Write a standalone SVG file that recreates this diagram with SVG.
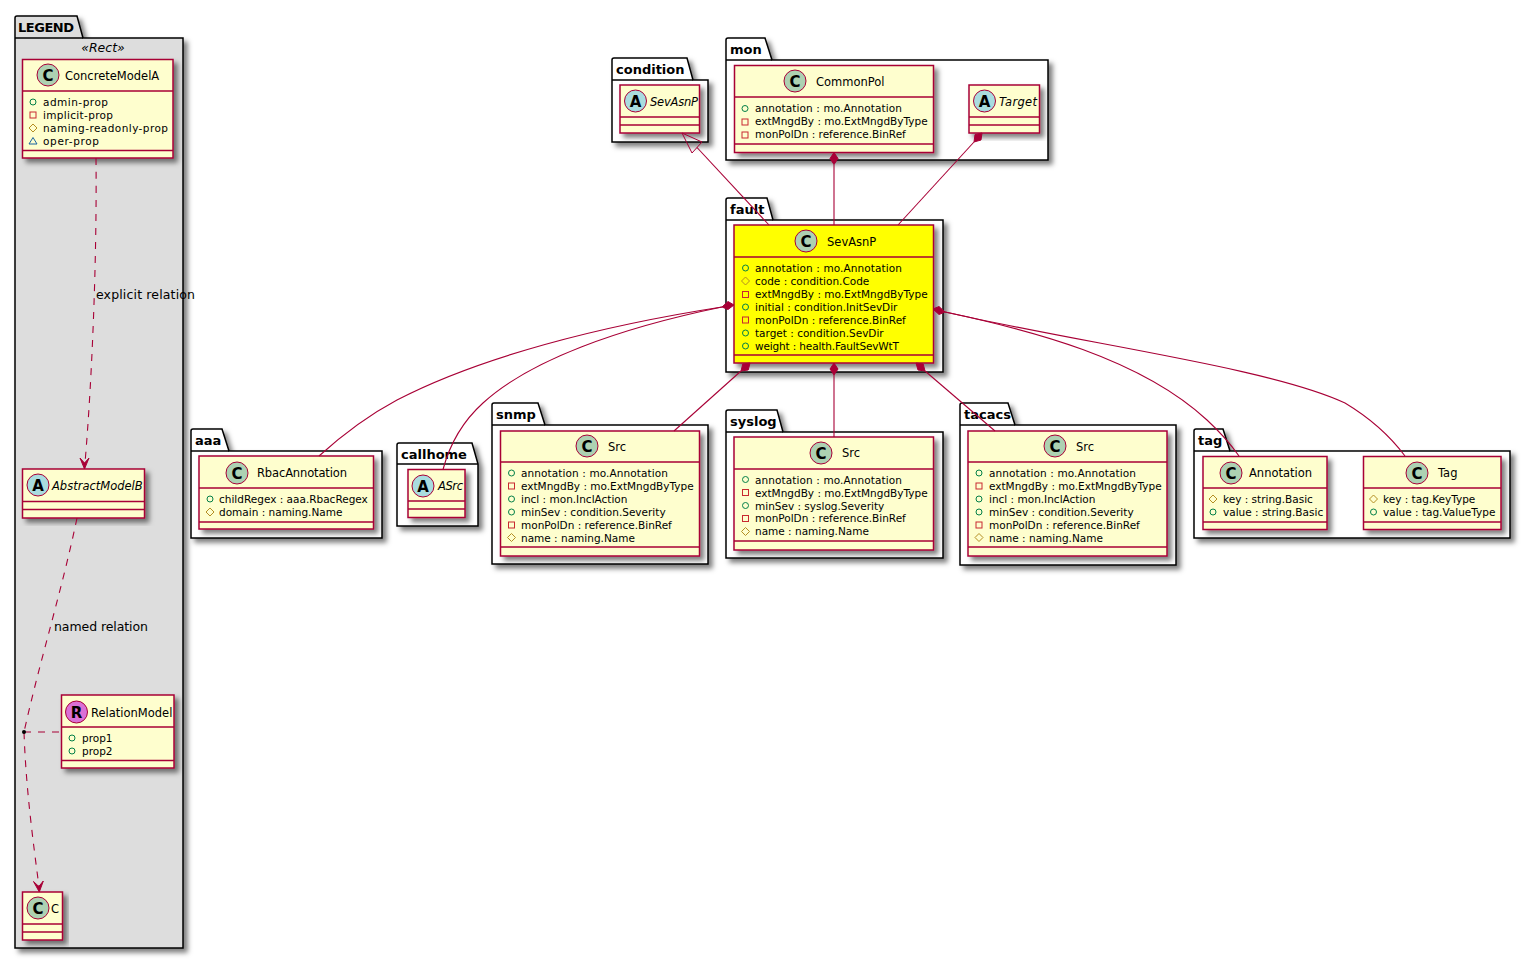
<svg xmlns="http://www.w3.org/2000/svg" width="1530" height="959" viewBox="0 0 1530 959">
<style>
text{font-family:"DejaVu Sans","Liberation Sans",sans-serif;fill:#000}
.pk{fill:#fff;stroke:#000;stroke-width:1.5;filter:url(#sh)}
.pg{fill:#ddd}
.pt{font-size:13px;font-weight:bold}
.b{fill:#FEFECE;stroke:#A80036;stroke-width:1.5;filter:url(#sh)}
.y{fill:#FFFF00}
.s{stroke:#A80036;stroke-width:1.5;fill:none}
.n{font-size:11.500px}
.i{font-size:11.500px;font-style:italic}
.a{font-size:10.500px}
.l{font-size:12.500px}
.c{stroke:#A80036;stroke-width:1.100;fill:none}
.d{stroke-dasharray:7 7}
.f{fill:#A80036;stroke:#A80036;stroke-width:1}
.o{stroke:#A80036;stroke-width:1;fill:none}
.cc{fill:#ADD1B2;stroke:#A80036;stroke-width:1}
.ca{fill:#A9DCDF;stroke:#A80036;stroke-width:1}
.cr{fill:#DA70D6;stroke:#A80036;stroke-width:1}
.g{font-size:15px;font-weight:bold;text-anchor:middle}
</style>
<defs>
<filter id="sh" x="-10%" y="-10%" width="125%" height="125%"><feDropShadow dx="4" dy="4" stdDeviation="2.500" flood-color="#000" flood-opacity="0.5"/></filter>
<circle id="pub" r="3" fill="none" stroke="#038048"/>
<rect id="pri" x="-3" y="-3" width="6" height="6" fill="none" stroke="#C82930"/>
<path id="pro" d="M-4,0L0,-4L4,0L0,4Z" fill="none" stroke="#B38D22"/>
<path id="pkg" d="M-4,3H4L0,-3.500Z" fill="none" stroke="#1963A0"/>
</defs>

<g id="pkg-legend"><path class="pk pg" d="M15,38V18Q15,16 17,16H77L83,38H183V948H15Z"/><path d="M15,38H83" fill="none" stroke="#000" stroke-width="1.5"/><text class="pt" x="18" y="32" textLength="56">LEGEND</text><text class="l" x="103" y="52" text-anchor="middle" font-style="italic">«Rect»</text></g>
<g id="pkg-condition"><path class="pk" d="M612,80V60Q612,58 614,58H687L693,80H708V142H612Z"/><path d="M612,80H693" fill="none" stroke="#000" stroke-width="1.5"/><text class="pt" x="616" y="74">condition</text></g>
<g id="pkg-mon"><path class="pk" d="M726,60V40Q726,38 728,38H765L772,60H1048V160H726Z"/><path d="M726,60H772" fill="none" stroke="#000" stroke-width="1.5"/><text class="pt" x="730" y="54">mon</text></g>
<g id="pkg-fault"><path class="pk" d="M726,220V200Q726,198 728,198H767L773,220H943V372H726Z"/><path d="M726,220H773" fill="none" stroke="#000" stroke-width="1.5"/><text class="pt" x="730" y="214">fault</text></g>
<g id="pkg-aaa"><path class="pk" d="M191,451V431Q191,429 193,429H222L229,451H382V538H191Z"/><path d="M191,451H229" fill="none" stroke="#000" stroke-width="1.5"/><text class="pt" x="195" y="445">aaa</text></g>
<g id="pkg-callhome"><path class="pk" d="M397,464V445Q397,443 399,443H472L478,464V526H397Z"/><path d="M397,464H478" fill="none" stroke="#000" stroke-width="1.5"/><text class="pt" x="401" y="459">callhome</text></g>
<g id="pkg-snmp"><path class="pk" d="M492,425V405Q492,403 494,403H538L545,425H708V564H492Z"/><path d="M492,425H545" fill="none" stroke="#000" stroke-width="1.5"/><text class="pt" x="496" y="419">snmp</text></g>
<g id="pkg-syslog"><path class="pk" d="M726,432V412Q726,410 728,410H777L783,432H943V558H726Z"/><path d="M726,432H783" fill="none" stroke="#000" stroke-width="1.5"/><text class="pt" x="730" y="426">syslog</text></g>
<g id="pkg-tacacs"><path class="pk" d="M960,425V405Q960,403 962,403H1008L1015,425H1176V565H960Z"/><path d="M960,425H1015" fill="none" stroke="#000" stroke-width="1.5"/><text class="pt" x="964" y="419">tacacs</text></g>
<g id="pkg-tag"><path class="pk" d="M1194,451V431Q1194,429 1196,429H1223L1230,451H1510V538H1194Z"/><path d="M1194,451H1230" fill="none" stroke="#000" stroke-width="1.5"/><text class="pt" x="1198" y="445">tag</text></g>

<g id="legend-concrete"><rect class="b" x="22.500" y="59.500" width="150.500" height="98.500"/><path class="s" d="M22.500,91H173M22.500,150.500H173"/><circle class="cc" cx="48" cy="75" r="11"/><text class="g" x="48" y="80.500">C</text><text class="n" x="65" y="80">ConcreteModelA</text>
<use href="#pub" x="33" y="102"/><text class="a" x="43" y="106" textLength="65">admin-prop</text><use href="#pri" x="33" y="115"/><text class="a" x="43" y="119" textLength="70">implicit-prop</text><use href="#pro" x="33" y="128"/><text class="a" x="43" y="132" textLength="125">naming-readonly-prop</text><use href="#pkg" x="33" y="141"/><text class="a" x="43" y="145" textLength="56">oper-prop</text></g>
<g id="legend-abstract"><rect class="b" x="22.500" y="469" width="122" height="49"/><path class="s" d="M22.500,501.500H144.500M22.500,509.500H144.500"/><circle class="ca" cx="38" cy="485" r="11"/><text class="g" x="38" y="490.500">A</text><text class="i" x="52" y="490">AbstractModelB</text></g>
<g id="legend-relation"><rect class="b" x="61.500" y="695" width="112.500" height="73"/><path class="s" d="M61.500,727H174M61.500,760.500H174"/><circle class="cr" cx="76.500" cy="712" r="11"/><text class="g" x="76.500" y="717.500">R</text><text class="n" x="91" y="717">RelationModel</text>
<use href="#pub" x="72" y="738"/><text class="a" x="82" y="742">prop1</text><use href="#pub" x="72" y="751"/><text class="a" x="82" y="755">prop2</text></g>
<g id="legend-c"><rect class="b" x="22.500" y="892" width="40" height="48"/><path class="s" d="M22.500,924H62.500M22.500,932H62.500"/><circle class="cc" cx="38" cy="908" r="11"/><text class="g" x="38" y="913.500">C</text><text class="n" x="51" y="913">C</text></g>

<g id="condition-sevasnp"><rect class="b" x="620" y="85" width="79.500" height="48"/><path class="s" d="M620,117H699.500M620,125H699.500"/><circle class="ca" cx="635.500" cy="101" r="11"/><text class="g" x="635.500" y="106.500">A</text><text class="i" x="650" y="106" textLength="48">SevAsnP</text></g>
<g id="mon-commonpol"><rect class="b" x="734.500" y="65.500" width="199" height="87"/><path class="s" d="M734.500,97H933.500M734.500,144H933.500"/><circle class="cc" cx="795" cy="81" r="11"/><text class="g" x="795" y="86.500">C</text><text class="n" x="816" y="86">CommonPol</text>
<use href="#pub" x="745" y="108.500"/><text class="a" x="755" y="112" textLength="147">annotation : mo.Annotation</text><use href="#pri" x="745" y="122"/><text class="a" x="755" y="125">extMngdBy : mo.ExtMngdByType</text><use href="#pri" x="745" y="135"/><text class="a" x="755" y="138">monPolDn : reference.BinRef</text></g>
<g id="mon-target"><rect class="b" x="969" y="85" width="70.500" height="48"/><path class="s" d="M969,117H1039.500M969,125H1039.500"/><circle class="ca" cx="984.500" cy="101" r="11"/><text class="g" x="984.500" y="106.500">A</text><text class="i" x="999" y="106" textLength="38">Target</text></g>
<g id="fault-sevasnp"><rect class="b y" x="734" y="225" width="199.500" height="138"/><path class="s" d="M734,257H933.500M734,355H933.500"/><circle class="cc" cx="806" cy="241" r="11"/><text class="g" x="806" y="246.500">C</text><text class="n" x="827" y="246">SevAsnP</text>
<use href="#pub" x="745.500" y="268"/><text class="a" x="755" y="272" textLength="147">annotation : mo.Annotation</text><use href="#pro" x="745.500" y="281"/><text class="a" x="755" y="285">code : condition.Code</text><use href="#pri" x="745.500" y="294.500"/><text class="a" x="755" y="298">extMngdBy : mo.ExtMngdByType</text><use href="#pub" x="745.500" y="307"/><text class="a" x="755" y="311">initial : condition.InitSevDir</text><use href="#pri" x="745.500" y="320"/><text class="a" x="755" y="323.500">monPolDn : reference.BinRef</text><use href="#pub" x="745.500" y="333"/><text class="a" x="755" y="336.500">target : condition.SevDir</text><use href="#pub" x="745.500" y="346"/><text class="a" x="755" y="349.500" textLength="144">weight : health.FaultSevWtT</text></g>
<g id="aaa-rbac"><rect class="b" x="199" y="456" width="174.500" height="73"/><path class="s" d="M199,488H373.500M199,522H373.500"/><circle class="cc" cx="237" cy="473" r="11"/><text class="g" x="237" y="478.500">C</text><text class="n" x="257" y="477" textLength="90">RbacAnnotation</text>
<use href="#pub" x="210" y="499"/><text class="a" x="219" y="503">childRegex : aaa.RbacRegex</text><use href="#pro" x="210" y="512"/><text class="a" x="219" y="516">domain : naming.Name</text></g>
<g id="callhome-asrc"><rect class="b" x="408" y="469.500" width="57" height="48"/><path class="s" d="M408,501H465M408,509H465"/><circle class="ca" cx="423" cy="486" r="11"/><text class="g" x="423" y="491.500">A</text><text class="i" x="438" y="490" textLength="25">ASrc</text></g>
<g id="snmp-src"><rect class="b" x="500.500" y="431" width="199" height="125"/><path class="s" d="M500.500,462H699.500M500.500,547H699.500"/><circle class="cc" cx="587" cy="446" r="11"/><text class="g" x="587" y="451.500">C</text><text class="n" x="608" y="451">Src</text>
<use href="#pub" x="511.500" y="473"/><text class="a" x="521" y="477" textLength="147">annotation : mo.Annotation</text><use href="#pri" x="511.500" y="486"/><text class="a" x="521" y="490">extMngdBy : mo.ExtMngdByType</text><use href="#pub" x="511.500" y="499"/><text class="a" x="521" y="503">incl : mon.InclAction</text><use href="#pub" x="511.500" y="512"/><text class="a" x="521" y="516">minSev : condition.Severity</text><use href="#pri" x="511.500" y="525"/><text class="a" x="521" y="528.500">monPolDn : reference.BinRef</text><use href="#pro" x="511.500" y="537.500"/><text class="a" x="521" y="541.500">name : naming.Name</text></g>
<g id="syslog-src"><rect class="b" x="734" y="437" width="199.500" height="113"/><path class="s" d="M734,469H933.500M734,541H933.500"/><circle class="cc" cx="821" cy="453" r="11"/><text class="g" x="821" y="458.500">C</text><text class="n" x="842" y="457">Src</text>
<use href="#pub" x="745.500" y="479.500"/><text class="a" x="755" y="483.500" textLength="147">annotation : mo.Annotation</text><use href="#pri" x="745.500" y="492.500"/><text class="a" x="755" y="496.500">extMngdBy : mo.ExtMngdByType</text><use href="#pub" x="745.500" y="505.500"/><text class="a" x="755" y="509.500">minSev : syslog.Severity</text><use href="#pri" x="745.500" y="518.500"/><text class="a" x="755" y="522">monPolDn : reference.BinRef</text><use href="#pro" x="745.500" y="531.500"/><text class="a" x="755" y="535">name : naming.Name</text></g>
<g id="tacacs-src"><rect class="b" x="968" y="431" width="199" height="125"/><path class="s" d="M968,462H1167M968,547H1167"/><circle class="cc" cx="1055" cy="446" r="11"/><text class="g" x="1055" y="451.500">C</text><text class="n" x="1076" y="451">Src</text>
<use href="#pub" x="979" y="473"/><text class="a" x="989" y="477" textLength="147">annotation : mo.Annotation</text><use href="#pri" x="979" y="486"/><text class="a" x="989" y="490">extMngdBy : mo.ExtMngdByType</text><use href="#pub" x="979" y="499"/><text class="a" x="989" y="503">incl : mon.InclAction</text><use href="#pub" x="979" y="512"/><text class="a" x="989" y="516">minSev : condition.Severity</text><use href="#pri" x="979" y="525"/><text class="a" x="989" y="528.500">monPolDn : reference.BinRef</text><use href="#pro" x="979" y="537.500"/><text class="a" x="989" y="541.500">name : naming.Name</text></g>
<g id="tag-annotation"><rect class="b" x="1203" y="456.500" width="124" height="73"/><path class="s" d="M1203,488H1327M1203,522H1327"/><circle class="cc" cx="1231" cy="473" r="11"/><text class="g" x="1231" y="478.500">C</text><text class="n" x="1249" y="477">Annotation</text>
<use href="#pro" x="1213" y="499"/><text class="a" x="1223" y="503">key : string.Basic</text><use href="#pub" x="1213" y="512"/><text class="a" x="1223" y="516">value : string.Basic</text></g>
<g id="tag-tag"><rect class="b" x="1363.500" y="456.500" width="137.500" height="73"/><path class="s" d="M1363.500,488H1501M1363.500,522H1501"/><circle class="cc" cx="1417" cy="473" r="11"/><text class="g" x="1417" y="478.500">C</text><text class="n" x="1438" y="477">Tag</text>
<use href="#pro" x="1373.500" y="499"/><text class="a" x="1383" y="503">key : tag.KeyType</text><use href="#pub" x="1373.500" y="512"/><text class="a" x="1383" y="516">value : tag.ValueType</text></g>

<g id="connectors">
<path class="c d" d="M96,158C97,260 92,380 85,463"/>
<path class="f" d="M84.500,469L80,458L84.500,463L89,458Z"/>
<text class="l" x="96" y="299" textLength="99">explicit relation</text>
<path class="c d" d="M77,518C62,590 40,660 24,732"/>
<path class="c d" d="M24,732C26,790 33,840 39,887"/>
<path class="f" d="M39.300,892L33.500,881.500L38.800,886.500L43.300,881Z"/>
<path class="c d" d="M24,732H61"/>
<circle cx="24" cy="732" r="2" fill="#000"/>
<text class="l" x="54" y="631" textLength="94">named relation</text>
<path class="c" d="M769,225L697,147.500"/>
<path class="o" d="M682,133L702,142L692,153Z"/>
<path class="c" d="M834,225V164.500"/>
<path class="f" d="M834,152.500L838,158.500L834,164.500L830,158.500Z"/>
<path class="c" d="M898,225L974,142"/>
<path class="f" d="M982,133L981,140L974,142L975,134.700Z"/>
<path class="c" d="M741,371L674,431"/>
<path class="f" d="M750,363L748.200,370L741,371L742.800,364Z"/>
<path class="c" d="M834,375V437"/>
<path class="f" d="M834,363L838,369L834,375L830,369Z"/>
<path class="c" d="M925,371L995,431"/>
<path class="f" d="M916,363L923.200,364L925,371L918,370Z"/>
<path class="c" d="M722,307C600,326 480,357 397,400C367,416 340,437 319,456"/>
<path class="c" d="M722,307C620,328 530,360 483,403C462,422 449,447 443,469.500"/>
<path class="f" d="M734,305L728,301.500L722,307L728,309.500Z"/>
<path class="c" d="M945,312C1030,330 1140,358 1207,420C1220,432 1232,446 1239,456"/>
<path class="c" d="M945,312C1090,345 1270,368 1345,403C1370,418 1390,436 1405,456"/>
<path class="f" d="M933,309L939,306.500L945,312L939,314.500Z"/>
</g>
</svg>
